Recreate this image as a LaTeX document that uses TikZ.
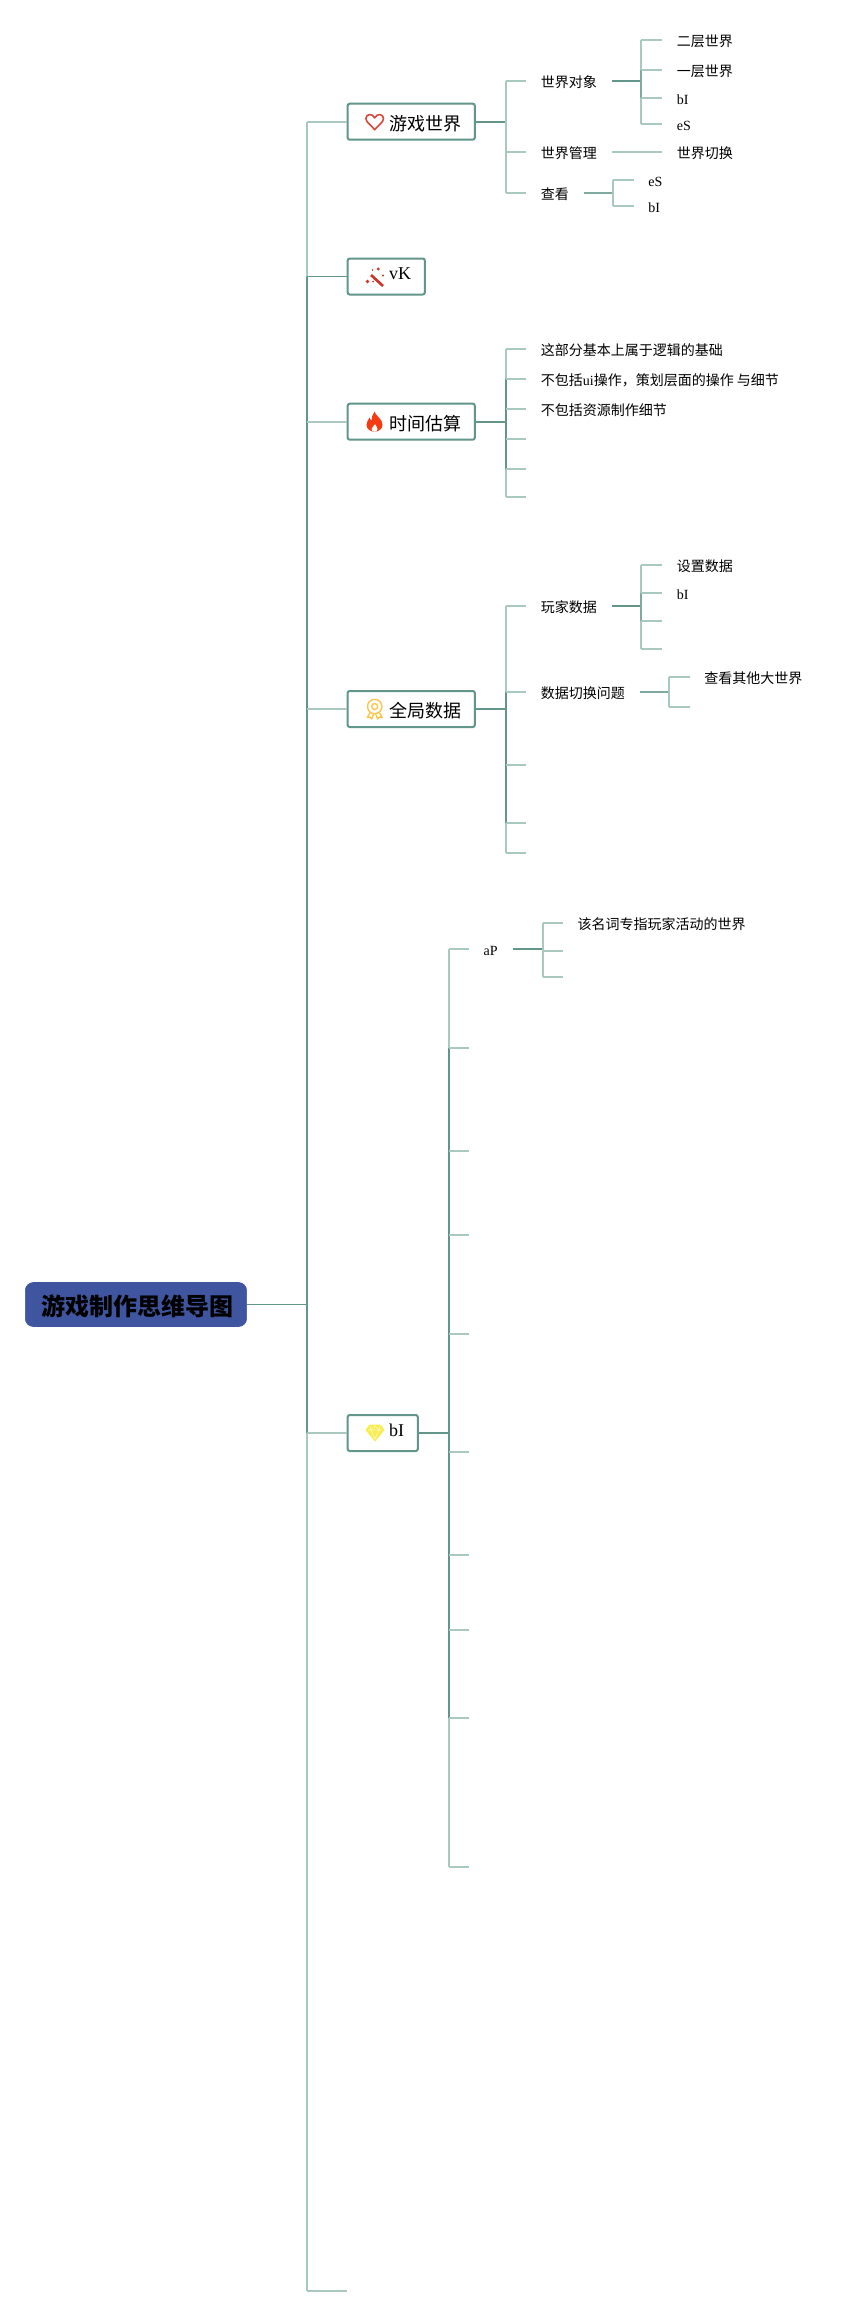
\documentclass[tikz,border=0pt]{standalone}
\usepackage{fontspec}
\setmainfont{Liberation Serif}
\newfontfamily\cjk{Noto Sans CJK SC}
\definecolor{lite}{HTML}{A9C9C0}
\definecolor{deep}{HTML}{62968A}
\definecolor{midc}{HTML}{7FAA9F}
\definecolor{rootblue}{HTML}{3F55A0}
\newcommand{\stubto}[3]{\draw[#3] (#1 |- #2) -- (#2);}
\newcommand{\busseg}[4]{\draw[#4] (#1 |- #2) -- (#1 |- #3);}
\tikzset{
  x=0.75pt,y=-0.75pt,
  l/.style={draw=lite,line width=1.5pt},
  d/.style={draw=deep,line width=1.5pt},
  m/.style={draw=midc,line width=1.5pt},
  thin d/.style={draw=deep,line width=0.9pt},
  txt/.style={anchor=west,inner xsep=11pt,inner ysep=0pt,text height=9.75pt,text depth=0pt,font=\fontsize{10.5pt}{12pt}\selectfont},
  boxn/.style={anchor=west,draw=deep,line width=1.5pt,fill=white,rounded corners=1.5pt,inner xsep=0pt,inner ysep=0pt,minimum height=27pt,font=\fontsize{13.5pt}{16pt}\selectfont},
  cjkbox/.style={boxn,text height=12.6pt,text depth=0pt},
  latbox/.style={boxn,text height=5.2pt,text depth=0pt},
  rootn/.style={anchor=west,draw=rootblue,fill=rootblue,rounded corners=6pt,inner xsep=0pt,inner ysep=0pt,minimum width=166pt,minimum height=33pt,text=black,text height=17pt,text depth=0pt,font=\fontsize{18pt}{20pt}\selectfont\bfseries}
}
\newcommand{\bx}[1]{\hspace*{31pt}#1\hspace*{10.3pt}}
\begin{document}
\begin{tikzpicture}
\useasboundingbox (0,0) rectangle (863,2316);
\fill[white] (0,0) rectangle (863,2316);
% buses
\coordinate (rootbus) at (306.8,0);
\coordinate (gbus) at (505.5,0);
\coordinate (tbus) at (505.5,0);
\coordinate (qbus) at (505.5,0);
\coordinate (wbus) at (641,0);
\coordinate (kbus) at (613,0);
\coordinate (pbus) at (641,0);
\coordinate (sbus) at (669,0);
\coordinate (bbus) at (448.8,0);
\coordinate (abus) at (542.5,0);
% root and main boxes
\node[rootn] (root) at (25,1304.5) {\hspace*{1.7pt}\cjk\bfseries 游戏制作思维导图};
\node[cjkbox] (game) at (346.7,121.7) {\bx{\cjk 游戏世界}};
\node[latbox] (vk) at (346.7,276.5) {\bx{vK}};
\node[cjkbox] (time) at (346.7,421.7) {\bx{\cjk 时间估算}};
\node[cjkbox] (data) at (346.7,709) {\bx{\cjk 全局数据}};
\node[latbox] (bi) at (346.7,1433) {\bx{bI}};
\coordinate (last) at (346.7,2290.7);
% game world subtree
\node[txt] (w) at (526,80.7) {\cjk 世界对象};
\node[txt] (wm) at (526,151.7) {\cjk 世界管理};
\node[txt] (look) at (526,192.7) {\cjk 查看};
\node[txt] (w1) at (662,39.7) {\cjk 二层世界};
\node[txt] (w2) at (662,69.7) {\cjk 一层世界};
\node[txt] (w3) at (662,97.7) {bI};
\node[txt] (w4) at (662,123.7) {eS};
\node[txt] (ws) at (662,151.7) {\cjk 世界切换};
\node[txt] (k1) at (633.5,179.7) {eS};
\node[txt] (k2) at (633.5,205.7) {bI};
% time subtree
\node[txt] (t1) at (526,349) {\cjk 这部分基本上属于逻辑的基础};
\node[txt] (t2) at (526,379) {\cjk 不包括{\rmfamily ui}操作，策划层面的操作 与细节};
\node[txt] (t3) at (526,409) {\cjk 不包括资源制作细节};
\coordinate (t4) at (526,438.7);
\coordinate (t5) at (526,469);
\coordinate (t6) at (526,496.7);
% data subtree
\node[txt] (q1) at (526,606) {\cjk 玩家数据};
\node[txt] (q2) at (526,691.7) {\cjk 数据切换问题};
\coordinate (q3) at (526,765);
\coordinate (q4) at (526,822.7);
\coordinate (q5) at (526,853);
\node[txt] (p1) at (662,564.7) {\cjk 设置数据};
\node[txt] (p2) at (662,592.7) {bI};
\coordinate (p3) at (662,620.7);
\coordinate (p4) at (662,648.7);
\node[txt] (s1) at (689.5,676.7) {\cjk 查看其他大世界};
\coordinate (s2) at (689.5,706.7);
% bI subtree
\node[txt] (b1) at (468.8,949) {aP};
\coordinate (b2) at (468.8,1047.7);
\coordinate (b3) at (468.8,1151);
\coordinate (b4) at (468.8,1235);
\coordinate (b5) at (468.8,1334);
\coordinate (b6) at (468.8,1451.5);
\coordinate (b7) at (468.8,1554.5);
\coordinate (b8) at (468.8,1630);
\coordinate (b9) at (468.8,1718);
\coordinate (b10) at (468.8,1867);
\node[txt] (a1) at (562.7,923) {\cjk 该名词专指玩家活动的世界};
\coordinate (a2) at (562.7,950.7);
\coordinate (a3) at (562.7,977);
% root connectors
\stubto{rootbus}{root.east}{thin d}
\busseg{rootbus}{game.west}{vk.west}{l}
\busseg{rootbus}{vk.west}{bi.west}{d}
\busseg{rootbus}{bi.west}{last}{l}
\stubto{rootbus}{game.west}{l}
\stubto{rootbus}{vk.west}{thin d}
\stubto{rootbus}{time.west}{l}
\stubto{rootbus}{data.west}{l}
\stubto{rootbus}{bi.west}{l}
\stubto{rootbus}{last}{l}
% game connectors
\stubto{gbus}{game.east}{d}
\busseg{gbus}{w.west}{look.west}{l}
\stubto{gbus}{w.west}{l}
\stubto{gbus}{wm.west}{l}
\stubto{gbus}{look.west}{l}
\stubto{wbus}{w.east}{d}
\busseg{wbus}{w1.west}{w2.west}{l}
\busseg{wbus}{w2.west}{w3.west}{m}
\busseg{wbus}{w3.west}{w4.west}{l}
\stubto{wbus}{w1.west}{l}
\stubto{wbus}{w2.west}{l}
\stubto{wbus}{w3.west}{l}
\stubto{wbus}{w4.west}{l}
\draw[l] (wm.east) -- (ws.west);
\stubto{kbus}{look.east}{m}
\busseg{kbus}{k1.west}{k2.west}{l}
\stubto{kbus}{k1.west}{l}
\stubto{kbus}{k2.west}{l}
% time connectors
\stubto{tbus}{time.east}{d}
\busseg{tbus}{t1.west}{t2.west}{l}
\busseg{tbus}{t2.west}{t5}{d}
\busseg{tbus}{t5}{t6}{l}
\stubto{tbus}{t1.west}{l}
\stubto{tbus}{t2.west}{l}
\stubto{tbus}{t3.west}{l}
\stubto{tbus}{t4}{l}
\stubto{tbus}{t5}{l}
\stubto{tbus}{t6}{l}
% data connectors
\stubto{qbus}{data.east}{d}
\busseg{qbus}{q1.west}{q2.west}{l}
\busseg{qbus}{q2.west}{q4}{d}
\busseg{qbus}{q4}{q5}{l}
\stubto{qbus}{q1.west}{l}
\stubto{qbus}{q2.west}{l}
\stubto{qbus}{q3}{l}
\stubto{qbus}{q4}{l}
\stubto{qbus}{q5}{l}
\stubto{pbus}{q1.east}{d}
\busseg{pbus}{p1.west}{p2.west}{l}
\busseg{pbus}{p2.west}{p3}{m}
\busseg{pbus}{p3}{p4}{l}
\stubto{pbus}{p1.west}{l}
\stubto{pbus}{p2.west}{l}
\stubto{pbus}{p3}{l}
\stubto{pbus}{p4}{l}
\stubto{sbus}{q2.east}{m}
\busseg{sbus}{s1.west}{s2}{l}
\stubto{sbus}{s1.west}{l}
\stubto{sbus}{s2}{l}
% bI connectors
\stubto{bbus}{bi.east}{d}
\busseg{bbus}{b1.west}{b2}{l}
\busseg{bbus}{b2}{b9}{d}
\busseg{bbus}{b9}{b10}{l}
\stubto{bbus}{b1.west}{l}
\stubto{bbus}{b2}{l}
\stubto{bbus}{b3}{l}
\stubto{bbus}{b4}{l}
\stubto{bbus}{b5}{l}
\stubto{bbus}{b6}{l}
\stubto{bbus}{b7}{l}
\stubto{bbus}{b8}{l}
\stubto{bbus}{b9}{l}
\stubto{bbus}{b10}{l}
\stubto{abus}{b1.east}{d}
\busseg{abus}{a1.west}{a3}{l}
\stubto{abus}{a1.west}{l}
\stubto{abus}{a2}{l}
\stubto{abus}{a3}{l}
% icons
\begin{scope}[shift={(374.7,121.7)}]
\draw[draw={rgb,255:red,214;green,72;blue,58},line width=1.2pt,line join=round]
 (0,8) .. controls (-3,4) and (-8.8,0.5) .. (-8.8,-3) .. controls (-8.8,-8) and (-2.5,-8.8) .. (0,-3.8) .. controls (2.5,-8.8) and (8.8,-8) .. (8.8,-3) .. controls (8.8,0.5) and (3,4) .. cycle;
\end{scope}
\begin{scope}[shift={(375,278)},color={rgb,255:red,200;green,55;blue,43}]
\draw[line width=2pt] (-4,-3) -- (8,8);
\fill (3.3,-9) circle (1.6);
\fill (8,-2.5) circle (1.1);
\fill (-7.5,3.5) circle (1.9);
\fill (-2.5,-8) circle (0.8);
\fill (-2,3.5) circle (1);
\end{scope}
\begin{scope}[shift={(374.5,421.7)}]
\fill[color={rgb,255:red,245;green,59;blue,20}] (0,-10) .. controls (1,-6) and (8,-3) .. (8,3) .. controls (8,7.5) and (4,10) .. (0,10) .. controls (-4,10) and (-8,7.5) .. (-8,3) .. controls (-8,0) and (-6,-2) .. (-5,-4) .. controls (-4,-2) and (-3.5,-1.5) .. (-3,-1) .. controls (-3,-4) and (-2,-7) .. (0,-10) -- cycle;
\fill[white] (0.5,2.5) .. controls (1,4) and (3,5.5) .. (3,7.5) .. controls (3,9) and (1.5,10) .. (0,10) .. controls (-1.5,10) and (-3,9) .. (-3,7.5) .. controls (-3,5.5) and (-0.5,5) .. cycle;
\end{scope}
\begin{scope}[shift={(374.7,706.5)},color={rgb,255:red,248;green,200;blue,78},line width=1.05pt]
\draw (0,0) circle (7.2);
\draw (0,0) circle (3);
\draw[line join=round] (-4.5,6) -- (-7.5,11) -- (-4.5,10.5) -- (-3,12.5) -- (-1,7.5);
\draw[line join=round] (4.5,6) -- (7.5,11) -- (4.5,10.5) -- (3,12.5) -- (1,7.5);
\end{scope}
\begin{scope}[shift={(375,1433)}]
\fill[color={rgb,255:red,248;green,236;blue,80}] (-5.5,-8.5) -- (5.5,-8.5) -- (9.5,-3) -- (0,8.5) -- (-9.5,-3) -- cycle;
\draw[color={rgb,255:red,254;green,250;blue,190},line width=0.45pt] (-7,-3) -- (7,-3) (-4,-3) -- (0,6) -- (4,-3) (-5,-7) -- (-4,-3) -- (0,-7) -- (4,-3) -- (5,-7);
\end{scope}
\end{tikzpicture}
\end{document}
